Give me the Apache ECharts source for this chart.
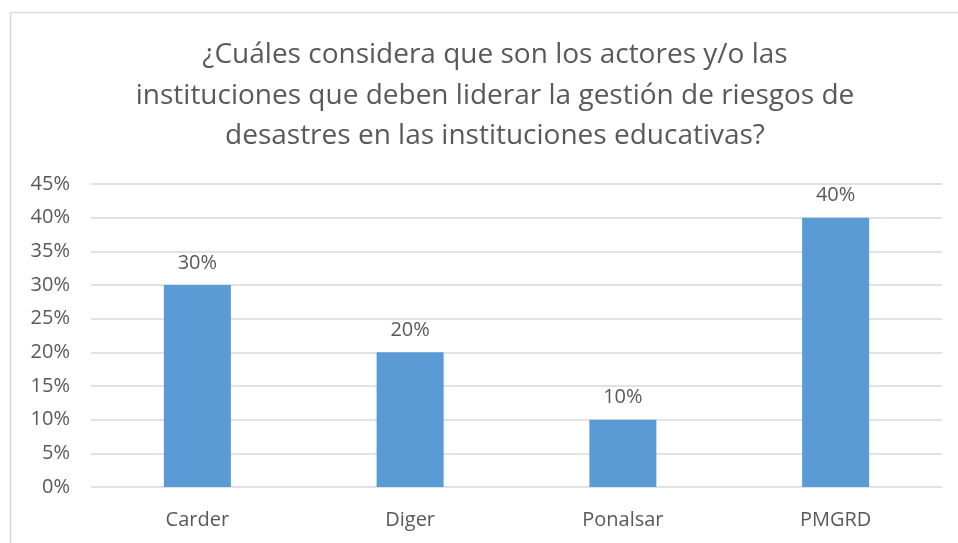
<!DOCTYPE html>
<html>
<head>
<meta charset="utf-8">
<script src="https://cdn.jsdelivr.net/npm/echarts@6/dist/echarts.min.js"></script>
<style>
  html, body { margin: 0; padding: 0; background: #fff; }
  #chart { width: 958px; height: 543px; }
</style>
</head>
<body>
<div id="chart"></div>
<script>
const categories = ['Carder', 'Diger', 'Ponalsar', 'PMGRD']
const values = [30, 20, 10, 40]
const titleLines = [
  '¿Cuáles considera que son los actores y/o las',
  'instituciones que deben liderar la gestión de riesgos de',
  'desastres en las instituciones educativas?'
]

const font = '"Open Sans", "Noto Sans", sans-serif'
const chart = echarts.init(document.getElementById('chart'))
chart.setOption({
  animation: false,
  backgroundColor: '#fff',
  graphic: [
    {
      type: 'rect',
      shape: { x: 10.5, y: 12.5, width: 1000, height: 600 },
      style: { fill: 'none', stroke: '#d9d9d9', lineWidth: 1.5 },
      silent: true
    }
  ],
  title: {
    text: titleLines.join('\n'),
    left: 490,
    top: 30,
    textAlign: 'center',
    textStyle: {
      fontFamily: font,
      fontSize: 28,
      fontWeight: 'normal',
      color: '#595959',
      lineHeight: 40.5
    }
  },
  grid: { left: 91, right: 16, top: 184, bottom: 56 },
  xAxis: {
    type: 'category',
    data: categories,
    axisLine: { show: false },
    axisTick: { show: false },
    axisLabel: { color: '#595959', fontSize: 20, fontFamily: font, margin: 23 }
  },
  yAxis: {
    type: 'value',
    min: 0,
    max: 45,
    interval: 5,
    axisLine: { show: false },
    axisTick: { show: false },
    axisLabel: { color: '#595959', fontSize: 20, fontFamily: font, margin: 21, formatter: '{value}%' },
    splitLine: { lineStyle: { color: '#d9d9d9', width: 1.5 } }
  },
  series: [
    {
      type: 'bar',
      data: values,
      barWidth: '31.5%',
      itemStyle: { color: '#5b9bd5' },
      label: {
        show: true,
        position: 'top',
        distance: 12,
        formatter: '{c}%',
        color: '#595959',
        fontSize: 20,
        fontFamily: font
      }
    }
  ]
})
</script>
</body>
</html>
